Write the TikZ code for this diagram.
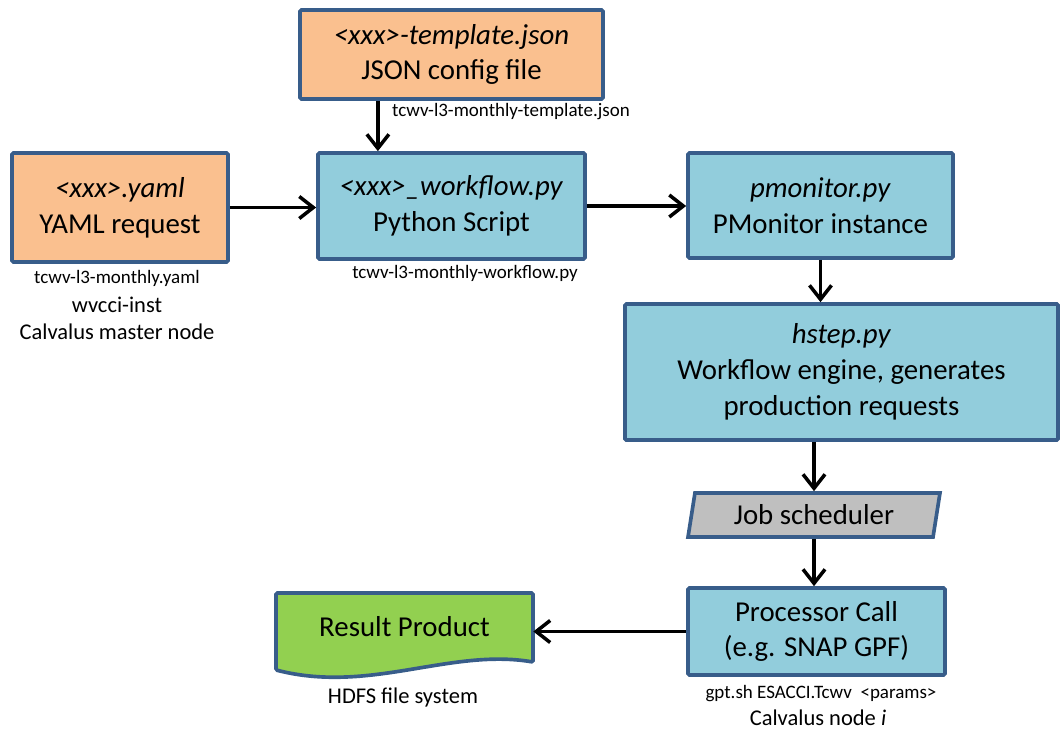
\documentclass[tikz,border=0pt]{standalone}
\usepackage{fontspec}
\setmainfont{Carlito}
\usetikzlibrary{arrows.meta}
\usetikzlibrary{shapes.geometric}
\definecolor{boxline}{RGB}{56,93,138}
\definecolor{filecol}{RGB}{250,192,143}
\definecolor{scriptcol}{RGB}{146,205,220}
\definecolor{schedcol}{RGB}{191,191,191}
\definecolor{prodcol}{RGB}{146,208,80}
\newcommand{\boxfont}{\fontsize{20.5}{25.5}\selectfont}
\newcommand{\notefont}{\fontsize{16}{19}\selectfont}
\newcommand{\codefont}{\fontsize{13.5}{16}\selectfont}

\begin{document}
\begin{tikzpicture}[x=0.025cm,y=-0.025cm,
    flowbox/.style={draw=boxline,line width=2.6pt,rounded corners=1pt,align=center,inner sep=0,font=\boxfont},
    flow/.style={-{Straight Barb[length=3.5mm,width=5.5mm]},line width=2.5pt}]
        \useasboundingbox (0,0) rectangle (1061,731);
        % Input files
        \node[flowbox,fill=filecol,minimum width=7.575cm,minimum height=2.225cm] (Template) at (451.5,54.5) {\textit{<xxx>-template.json}\\JSON config file};
        \node[font=\codefont] (TemplateName) at (511,112) {tcwv-l3-monthly-template.json};
        \node[flowbox,fill=filecol,minimum width=5.4cm,minimum height=2.725cm] (Yaml) at (120,207.5) {\textit{<xxx>.yaml}\\YAML request};
        \node[font=\codefont] (YamlName) at (117,278) {tcwv-l3-monthly.yaml};
        \node[font=\notefont] (YamlInst) at (117,305) {wvcci-inst};
        \node[font=\notefont] (YamlHost) at (117,332) {Calvalus master node};
        % Scripts
        \node[flowbox,fill=scriptcol,minimum width=6.675cm,minimum height=2.65cm] (Workflow) at (451.5,206) {\textit{<xxx>\_workflow.py}\\Python Script};
        \node[font=\codefont] (WorkflowName) at (465,273) {tcwv-l3-monthly-workflow.py};
        \node[flowbox,fill=scriptcol,minimum width=6.625cm,minimum height=2.625cm] (PMonitor) at (820.5,205.5) {\textit{pmonitor.py}\\PMonitor instance};
        \node[flowbox,fill=scriptcol,minimum width=10.825cm,minimum height=3.4cm] (Hstep) at (841.5,372) {\textit{hstep.py}\\Workflow engine, generates\\production requests};
        % Scheduler and processing
        \node[flowbox,fill=schedcol,trapezium,trapezium left angle=77,trapezium right angle=103,trapezium stretches=true,rounded corners=0pt,minimum width=6.3cm,minimum height=1.1cm] (Jobs) at (814,515) {Job scheduler};
        \node[flowbox,fill=scriptcol,minimum width=6.425cm,minimum height=2.175cm] (Proc) at (816.5,631.5) {Processor Call\\(e.g. SNAP GPF)};
        \node[font=\codefont] (ProcCmd) at (821,694) {gpt.sh ESACCI.Tcwv\ \ <params>};
        \node[font=\notefont] (ProcHost) at (818,718) {Calvalus node \textit{i}};
        % Result
        \draw[draw=boxline,line width=2.6pt,fill=prodcol,rounded corners=1pt] (276,593) -- (533,593) -- (533,662) .. controls (450,648) and (370,694) .. (276,670) -- cycle;
        \node[font=\boxfont,inner sep=0,minimum width=6.425cm,minimum height=1.7cm] (Result) at (404.5,627) {Result Product};
        \node[font=\notefont] (ResultHost) at (403,697) {HDFS file system};
        % Connections
        \draw[flow] ([xshift=-1.84cm]Template.south) -- ([xshift=-1.84cm]Workflow.north);
        \draw[flow] (Yaml.east) -- (Workflow.west |- Yaml.east);
        \draw[flow] (Workflow.east) -- (PMonitor.west |- Workflow.east);
        \draw[flow] (PMonitor.south) -- (PMonitor.south |- Hstep.north);
        \draw[flow] (Jobs.north |- Hstep.south) -- (Jobs.north);
        \draw[flow] (Jobs.south) -- (Jobs.south |- Proc.north);
        \draw[flow] (Proc.west) -- (Result.east |- Proc.west);
\end{tikzpicture}
\end{document}
